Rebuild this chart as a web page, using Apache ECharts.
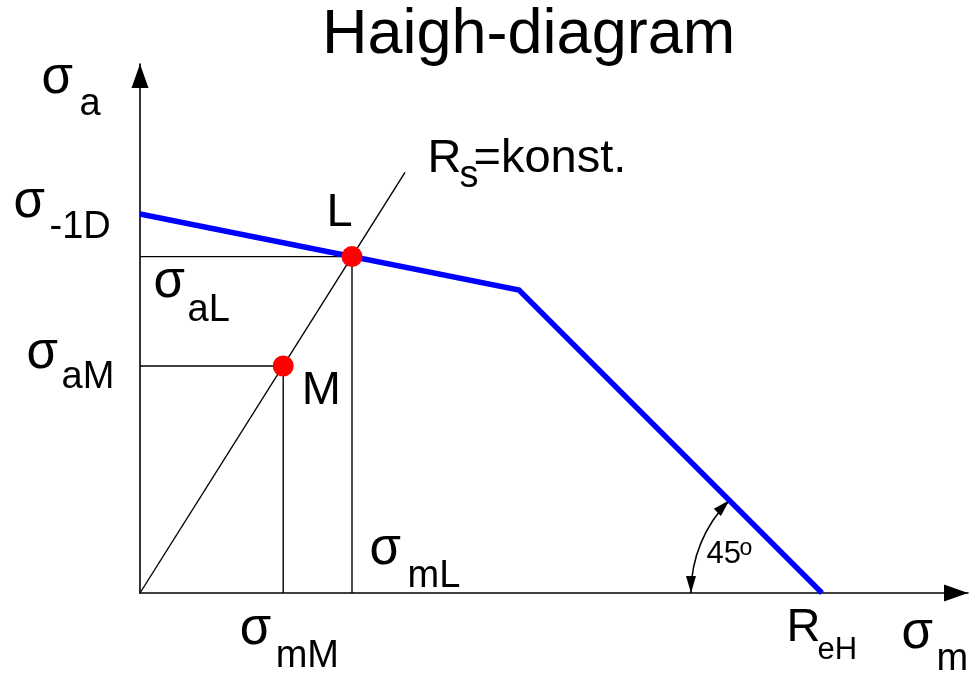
<!DOCTYPE html>
<html>
<head>
<meta charset="utf-8">
<title>Haigh-diagram</title>
<script src="https://cdn.jsdelivr.net/npm/echarts@6/dist/echarts.min.js"></script>
<style>
  html, body { margin: 0; padding: 0; background: #ffffff; }
  #chart { width: 969px; height: 673px; }
</style>
</head>
<body>
<div id="chart"></div>
<script>
// Haigh diagram: mean stress (x) against stress amplitude (y), schematic units.
const axisMax = [414, 264.5];          // axis extents (arrow tips)
const sigma1D = 189.5;                 // fatigue limit at zero mean stress
const knee = [189.5, 151.5];           // end of the fatigue-limit line
const ReH = 341;                       // yield strength on the mean-stress axis
const pointL = [106, 168.2];           // limit point L
const pointM = [71.6, 113.5];          // operating point M
const rsEnd = [132.5, 210.3];          // end of the constant stress-ratio ray
const yieldAngleDeg = 45;
const angleArcRadius = 65.5;

const limitLine = [[0, sigma1D], knee, [ReH, 0]];
const rsRay = [[0, 0], rsEnd];
const guideL = [[0, pointL[1]], pointL, [pointL[0], 0]];
const guideM = [[0, pointM[1]], pointM, [pointM[0], 0]];

const FONT = 'Liberation Sans';
const SIG = 51;   // sigma glyph
const MAIN = 47;
const SUB = 38;
const MID = 0.3465; // em offset between text middle and baseline

// a text fragment anchored to a data point, offset in pixels (x: left edge, y: baseline)
function frag(anchor, text, dx, baseDy, size) {
  return {
    value: anchor,
    label: {
      show: true,
      formatter: text,
      position: [dx, baseDy - MID * size],
      align: 'left',
      verticalAlign: 'middle',
      fontSize: size,
      lineHeight: size,
      fontFamily: FONT,
      color: '#000000',
      opacity: 1
    }
  };
}

const yTip = [0, axisMax[1]];
const xTip = [axisMax[0], 0];
const sig1DAnchor = [0, sigma1D];
const aLAnchor = [0, pointL[1]];
const aMAnchor = [0, pointM[1]];
const mLAnchor = [pointL[0], 0];
const mMAnchor = [pointM[0], 0];
const reHAnchor = [ReH, 0];

const textItems = [
  frag(yTip, 'σ', -98, 33, SIG),
  frag(yTip, 'a', -60, 54, SUB),
  frag(xTip, 'σ', -66, 59, SIG),
  frag(xTip, 'm', -31, 80, SUB),
  frag(sig1DAnchor, 'σ', -126, 7, SIG),
  frag(sig1DAnchor, '-1D', -90, 27, SUB),
  frag(aLAnchor, 'σ', 14, 45, SIG),
  frag(aLAnchor, 'aL', 48, 68, SUB),
  frag(aMAnchor, 'σ', -113, 6, SIG),
  frag(aMAnchor, 'aM', -78, 25, SUB),
  frag(pointL, 'L', -25, -27, MAIN),
  frag(pointM, 'M', 19, 42, MAIN),
  frag(rsEnd, 'R', 23, 3, MAIN),
  frag(rsEnd, 's', 55, 18, SUB),
  frag(rsEnd, '=konst.', 69, 3, MAIN),
  frag(mLAnchor, 'σ', 18, -25, SIG),
  frag(mLAnchor, 'mL', 56, -3, SUB),
  frag(mMAnchor, 'σ', -43, 55, SIG),
  frag(mMAnchor, 'mM', -7, 77, SUB),
  frag(reHAnchor, 'R', -35, 52, MAIN),
  frag(reHAnchor, 'eH', -4, 69, 31),
  frag(reHAnchor, String(yieldAngleDeg), -115, -27, 31),
  frag(reHAnchor, 'o', -82, -36, 23)
];

const thin = { color: '#000000', width: 1.4 };

const chart = echarts.init(document.getElementById('chart'), null, { renderer: 'canvas' });

chart.setOption({
  animation: false,
  backgroundColor: '#ffffff',
  title: {
    text: 'Haigh-diagram',
    left: 322,
    top: 4,
    padding: 0,
    textStyle: { fontFamily: FONT, fontSize: 63, lineHeight: 63, fontWeight: 'normal', color: '#000000' }
  },
  grid: { left: 140, right: 1, top: 64, bottom: 80, containLabel: false },
  xAxis: {
    type: 'value', min: 0, max: axisMax[0],
    axisLine: {
      show: true, onZero: false,
      lineStyle: { color: '#000000', width: 1.6 },
      symbol: ['none', 'triangle'], symbolSize: [17, 24], symbolOffset: [0, -12]
    },
    axisTick: { show: false }, axisLabel: { show: false }, splitLine: { show: false }
  },
  yAxis: {
    type: 'value', min: 0, max: axisMax[1],
    axisLine: {
      show: true, onZero: false,
      lineStyle: { color: '#000000', width: 1.6 },
      symbol: ['none', 'triangle'], symbolSize: [17, 24], symbolOffset: [0, -12]
    },
    axisTick: { show: false }, axisLabel: { show: false }, splitLine: { show: false }
  },
  series: [
    { type: 'line', name: 'guideL', data: guideL, symbol: 'none', lineStyle: thin, z: 1, silent: true },
    { type: 'line', name: 'guideM', data: guideM, symbol: 'none', lineStyle: thin, z: 1, silent: true },
    { type: 'line', name: 'Rs', data: rsRay, symbol: 'none', lineStyle: thin, z: 1, silent: true },
    {
      type: 'line', name: 'limit', data: limitLine, symbol: 'none', z: 2, silent: true,
      lineStyle: { color: '#0000ff', width: 5.5, cap: 'butt', join: 'miter' }
    },
    {
      type: 'custom', name: 'angle', data: [[ReH, 0]], z: 2, silent: true,
      renderItem: function (params, api) {
        const c = api.coord([api.value(0), api.value(1)]);
        const r = c[0] - api.coord([api.value(0) - angleArcRadius, 0])[0];
        const a0 = Math.PI;
        const a1 = Math.PI + yieldAngleDeg * Math.PI / 180;
        const head = function (tip, dir) {
          const len = 17, hw = 5;
          const bx = tip[0] - dir[0] * len, by = tip[1] - dir[1] * len;
          return {
            type: 'polygon',
            shape: { points: [tip, [bx - dir[1] * hw, by + dir[0] * hw], [bx + dir[1] * hw, by - dir[0] * hw]] },
            style: { fill: '#000000' }
          };
        };
        const p0 = [c[0] + r * Math.cos(a0), c[1] + r * Math.sin(a0)];
        const p1 = [c[0] + r * Math.cos(a1), c[1] + r * Math.sin(a1)];
        return {
          type: 'group',
          children: [
            {
              type: 'arc',
              shape: { cx: c[0], cy: c[1], r: r, startAngle: a0, endAngle: a1, clockwise: true },
              style: { stroke: '#000000', lineWidth: 1.5, fill: null }
            },
            head(p0, [0, 1]),
            head(p1, [-Math.sin(a1), Math.cos(a1)])
          ]
        };
      }
    },
    {
      type: 'scatter', name: 'points', data: [pointL, pointM], symbol: 'circle', symbolSize: 21,
      itemStyle: { color: '#ff0000', opacity: 1 }, z: 3, silent: true
    },
    {
      type: 'scatter', name: 'labels', data: textItems, symbol: 'circle', symbolSize: 1,
      itemStyle: { color: 'rgba(255,255,255,0)', opacity: 1 }, z: 4, silent: true
    }
  ]
});
</script>
</body>
</html>
